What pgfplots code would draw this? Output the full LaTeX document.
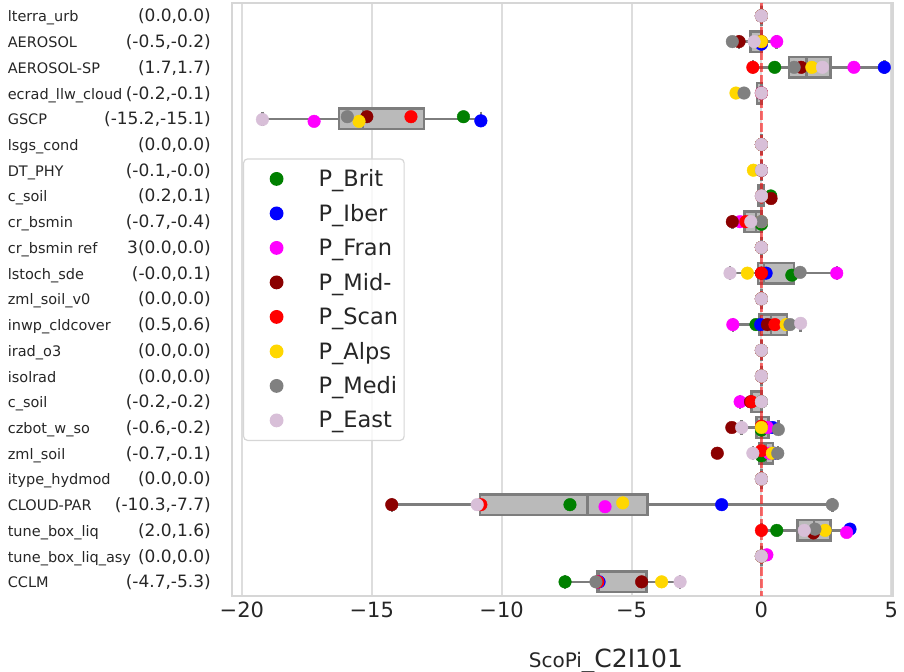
\documentclass[border=0pt]{standalone}
\usepackage{fontspec}
\setmainfont{DejaVu Sans}
\usepackage{pgfplots}
\pgfplotsset{compat=1.18}
\usepgfplotslibrary{statistics}
\definecolor{cBrit}{RGB}{0,128,0}
\definecolor{cIber}{RGB}{0,0,255}
\definecolor{cFran}{RGB}{255,0,255}
\definecolor{cMid}{RGB}{139,0,0}
\definecolor{cScan}{RGB}{255,0,0}
\definecolor{cAlps}{RGB}{255,215,0}
\definecolor{cMedi}{RGB}{128,128,128}
\definecolor{cEast}{RGB}{216,191,216}
\definecolor{boxfill}{RGB}{186,186,186}
\definecolor{boxedge}{RGB}{125,125,125}
\definecolor{gridgray}{RGB}{221,221,221}
\definecolor{framegray}{RGB}{214,214,214}
\definecolor{txt}{RGB}{38,38,38}
\newcommand{\lab}[2]{\makebox[203bp][l]{\fontsize{14.5bp}{14.5bp}\selectfont #1\hfill\fontsize{17bp}{17bp}\selectfont #2}}
\newcommand{\bx}[6]{\addplot[forget plot, boxplot prepared={lower whisker=#2, lower quartile=#3, median=#4, upper quartile=#5, upper whisker=#6, draw position=#1}] coordinates {};}
\begin{document}
\begin{tikzpicture}
\useasboundingbox (0,0) rectangle (904bp,672bp);
\begin{axis}[
  at={(232bp,76bp)}, anchor=south west,
  scale only axis, width=660.6bp, height=593bp,
  xmin=-20.38, xmax=5.05,
  ymin=-0.5, ymax=22.55, y dir=reverse,
  xtick={-20,-15,-10,-5,0,5},
  xticklabels={−20,−15,−10,−5,0,5},
  xticklabel style={font=\fontsize{21bp}{21bp}\selectfont, text=txt, anchor=north, inner sep=0pt, yshift=-5.5bp},
  ytick={0,...,22},
  yticklabels={
    {\lab{lterra\_urb}{(0.0,0.0)}},
    {\lab{AEROSOL}{(-0.5,-0.2)}},
    {\lab{AEROSOL-SP}{(1.7,1.7)}},
    {\lab{ecrad\_llw\_cloud}{(-0.2,-0.1)}},
    {\lab{GSCP}{(-15.2,-15.1)}},
    {\lab{lsgs\_cond}{(0.0,0.0)}},
    {\lab{DT\_PHY}{(-0.1,-0.0)}},
    {\lab{c\_soil}{(0.2,0.1)}},
    {\lab{cr\_bsmin}{(-0.7,-0.4)}},
    {\lab{cr\_bsmin ref}{3(0.0,0.0)}},
    {\lab{lstoch\_sde}{(-0.0,0.1)}},
    {\lab{zml\_soil\_v0}{(0.0,0.0)}},
    {\lab{inwp\_cldcover}{(0.5,0.6)}},
    {\lab{irad\_o3}{(0.0,0.0)}},
    {\lab{isolrad}{(0.0,0.0)}},
    {\lab{c\_soil}{(-0.2,-0.2)}},
    {\lab{czbot\_w\_so}{(-0.6,-0.2)}},
    {\lab{zml\_soil}{(-0.7,-0.1)}},
    {\lab{itype\_hydmod}{(0.0,0.0)}},
    {\lab{CLOUD-PAR}{(-10.3,-7.7)}},
    {\lab{tune\_box\_liq}{(2.0,1.6)}},
    {\lab{tune\_box\_liq\_asy}{(0.0,0.0)}},
    {\lab{CCLM}{(-4.7,-5.3)}}
  },
  yticklabel style={text=txt, anchor=base east, inner sep=0pt, xshift=-21bp, yshift=-6bp},
  major tick length=0pt,
  xmajorgrids,
  major grid style={draw=gridgray, line width=2bp},
  axis line style={draw=framegray, line width=2.5bp},
  xlabel={\fontsize{20bp}{20bp}\selectfont ScoPi\fontsize{25bp}{25bp}\selectfont\_C2I101},
  xlabel style={at={(axis description cs:0.566,0)}, anchor=base, yshift=-71bp, inner sep=0pt, text=txt},
  boxplot/draw direction=x,
  boxplot/box extend=0.8,
  boxplot/whisker extend=0.55,
  boxplot/every box/.style={draw=boxedge, fill=boxfill, line width=2.5bp},
  boxplot/every whisker/.style={draw=boxedge, line width=2.5bp},
  boxplot/every median/.style={draw=boxedge, line width=2.5bp},
  legend image code/.code={\path[draw=none, fill=none] (-27bp,-10bp) rectangle (42bp,10bp); \draw[#1, fill opacity=1, draw opacity=1] plot coordinates {(0bp,0bp)};},
  legend style={at={(0.01665,0.7381)}, anchor=north west, font=\fontsize{22.5bp}{22.5bp}\selectfont, text=txt, draw=framegray, line width=1.2bp, rounded corners=4bp, fill=white, fill opacity=0.8, text opacity=1, inner xsep=6bp, inner ysep=10bp, row sep=14.5bp, nodes={inner sep=0bp}},
  legend cell align=left,
  every axis plot/.append style={only marks, mark=*, mark size=6.3bp},
]
% box plots
\bx{0}{0}{0}{0}{0}{0}
\bx{1}{-0.86}{-0.43}{0}{0}{0.59}
\bx{2}{-0.33}{1.07}{1.735}{2.65}{4.73}
\bx{3}{-0.17}{-0.17}{0}{0}{0}
\bx{4}{-19.21}{-16.26}{-15.34}{-12.985}{-10.80}
\bx{5}{0}{0}{0}{0}{0}
\bx{6}{0}{0}{0}{0}{0}
\bx{7}{-0.12}{-0.12}{0}{0.08}{0.08}
\bx{8}{-1.12}{-0.655}{-0.205}{0}{0}
\bx{9}{0}{0}{0}{0}{0}
\bx{10}{-1.21}{-0.135}{0.09}{1.25}{2.90}
\bx{11}{0}{0}{0}{0}{0}
\bx{12}{-1.10}{-0.075}{0.375}{0.99}{1.51}
\bx{13}{0}{0}{0}{0}{0}
\bx{14}{0}{0}{0}{0}{0}
\bx{15}{-0.82}{-0.39}{0}{0}{0}
\bx{16}{-0.76}{-0.19}{0}{0.28}{0.65}
\bx{17}{-0.33}{-0.08}{0.15}{0.44}{0.63}
\bx{18}{0}{0}{0}{0}{0}
\bx{19}{-14.23}{-10.835}{-6.695}{-4.39}{2.73}
\bx{20}{0}{1.385}{2.03}{2.66}{3.41}
\bx{21}{0}{0}{0}{0}{0}
\bx{22}{-7.56}{-6.32}{-6.28}{-4.42}{-3.13}
% zero line
\addplot[forget plot, no marks, sharp plot, draw=red, draw opacity=0.55, line width=3bp, dash pattern=on 9bp off 3bp] coordinates {(0,-0.5) (0,22.55)};
% points
\addplot[color=cBrit] coordinates {(0,0)(0,1)(0.51,2)(0,3)(-11.47,3.92)(0,5)(0,6)(0.36,7)(0,8.1)(0,9)(1.17,10.08)(0,11)(-0.21,12)(0,13)(0,14)(0,15)(0,16.1)(0,17.1)(0,18)(-7.37,19)(0.59,20)(0,21)(-7.56,22)};
\addplot[color=cIber] coordinates {(0,0)(0,1.1)(4.73,2)(0,3)(-10.80,4.08)(0,5)(0,6)(0,7)(0,8)(0,9)(0.18,10)(0,11)(-0.03,12)(0,13)(0,14)(0,15)(0.43,16)(0.50,17)(0,18)(-1.53,19)(3.41,19.95)(0,21)(-6.25,22)};
\addplot[color=cFran] coordinates {(0,0)(0.59,1)(3.56,2)(0,3)(-17.22,4.1)(0,5)(0,6)(0,7)(-0.82,8)(0,9)(2.90,10)(0,11)(-1.10,12)(0,13)(0,14)(-0.82,15)(0.23,16)(0.30,17)(0,18)(-6.02,19.08)(3.28,20.08)(0.21,20.95)(-6.3,22)};
\addplot[color=cMid] coordinates {(0,0)(-0.86,1)(1.53,2)(0,3)(-15.19,3.92)(0,5)(0,6)(0.37,7.1)(-1.12,8)(0,9)(0,10)(0,11)(0.23,12)(0,13)(0,14)(-0.42,15)(-1.14,16)(-1.70,17)(0,18)(-14.23,19)(2.0,20.1)(0,21)(-4.61,22)};
\addplot[color=cScan] coordinates {(0,0)(0,1)(-0.33,2)(0,3)(-13.49,3.92)(0,5)(0,6)(0,7)(-0.60,8)(0,9)(0,10)(0,11)(0.52,12)(0,13)(0,14)(-0.38,15)(0,15.95)(0,16.9)(0,18)(-10.80,19)(0,20)(0,21)(-6.3,22)};
\addplot[color=cAlps] coordinates {(0,0)(0,1)(1.94,2)(-0.98,3)(-15.49,4.1)(0,5)(-0.31,6)(0,7)(0,8)(0,9)(-0.54,10)(0,11)(0.95,12)(0,13)(0,14)(0,15)(0,16)(0.42,17)(0,18)(-5.34,18.93)(2.45,20)(0,21)(-3.84,22)};
\addplot[color=cMedi] coordinates {(0,0)(-1.12,1)(1.26,2)(-0.67,3)(-15.94,3.92)(0,5)(0,6)(0,7)(0,8)(0,9)(1.49,9.97)(0,11)(1.10,12)(0,13)(0,14)(0,15)(0.65,16.08)(0.63,17)(0,18)(2.73,19)(2.06,19.95)(0,21)(-6.37,22)};
\addplot[color=cEast] coordinates {(0,0)(-0.28,1)(2.35,2)(0,3)(-19.21,4.03)(0,5)(0,6)(0,7)(-0.41,8)(0,9)(-1.21,10)(0,11)(1.51,11.95)(0,13)(0,14)(0,15)(-0.76,16)(-0.33,17)(0,18)(-10.94,19)(1.65,20)(0,21)(-3.13,22)};
\legend{P\_Brit,P\_Iber,P\_Fran,P\_Mid-,P\_Scan,P\_Alps,P\_Medi,P\_East}
\end{axis}
\end{tikzpicture}
\end{document}
